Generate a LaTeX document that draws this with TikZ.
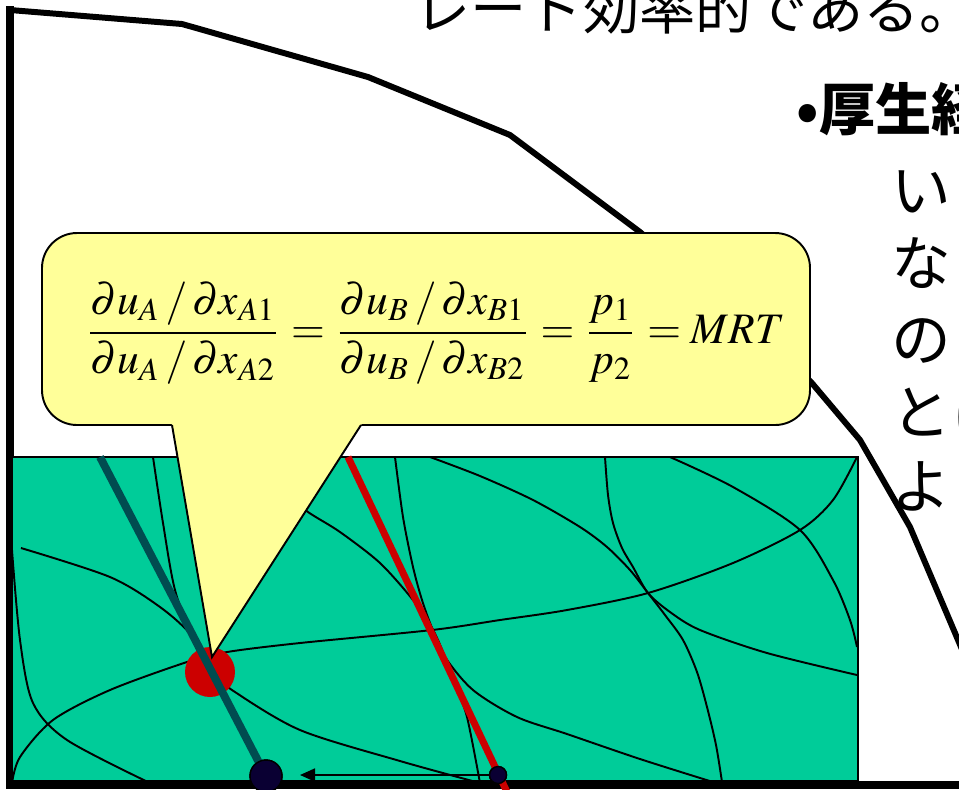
\documentclass[tikz,border=0pt]{standalone}
\usepackage{mathptmx}
\usepackage[no-math]{fontspec}
\usepackage{graphicx}
\newfontfamily\jp{Noto Sans CJK JP}
\usetikzlibrary{arrows.meta}
\definecolor{ggreen}{HTML}{00CC99}
\definecolor{yel}{HTML}{FFFF99}
\definecolor{tealline}{HTML}{004C50}
\definecolor{redc}{HTML}{CC0000}
\definecolor{navy}{HTML}{0A0033}
\begin{document}
\begin{tikzpicture}[x=0.02cm,y=-0.02cm,
  icurve/.style={draw=black, line width=1.1pt},
  axisline/.style={line width=4.2pt, line cap=rect},
  ppf/.style={line width=3.4pt, line join=round},
  jptext/.style={font=\jp\fontsize{32}{38}\selectfont, inner sep=0pt, anchor=base west},
  jpside/.style={font=\jp\fontsize{34}{40}\selectfont, inner sep=0pt, anchor=base west},
  jpbold/.style={font=\jp\bfseries\fontsize{32}{38}\selectfont, inner sep=0pt, anchor=base west},
  dotstyle/.style={circle, inner sep=0pt, draw=black, line width=0.8pt, fill=navy}]
\useasboundingbox (0,0) rectangle (959,789);
\clip (0,0) rectangle (959,789);
\fill[white] (0,0) rectangle (959,789);
% production possibility frontier
\draw[ppf] (10,10) -- (182,24) -- (368,77) -- (510,135) -- (640,232) -- (811,382) -- (860,440) -- (910,527) -- (975,680);
% axes
\draw[axisline] (10,10) -- (10,785) -- (975,785);
% Edgeworth box
\filldraw[fill=ggreen, line width=1.4pt] (12,457) rectangle (858,781);
% indifference curves and contract curve
\draw[icurve] plot[smooth] coordinates {(12,550) (20,640) (33,703) (67,740) (150,783)};
\draw[icurve] plot[smooth] coordinates {(153,457) (163,523) (175,590) (195,645) (212,672) (232,690) (300,730) (400,761) (480,783)};
\draw[icurve] plot[smooth] coordinates {(21,548) (110,577) (160,607) (192,636) (212,672) (230,707) (250,745) (262,775)};
\draw[icurve] plot[smooth] coordinates {(12,783) (20,757) (53,720) (110,690) (187,662) (227,652) (300,643) (432,630) (500,620) (567,610) (648,593) (733,563) (800,530) (833,500) (857,457)};
\draw[icurve] plot[smooth] coordinates {(395,457) (403,517) (413,567) (422,600) (432,628) (445,657) (473,690) (517,717) (567,734) (640,759) (713,782)};
\draw[icurve] plot[smooth] coordinates {(280,490) (308,512) (340,532) (380,563) (413,600) (432,628) (443,652) (455,685) (467,717) (480,783)};
\draw[icurve] plot[smooth] coordinates {(605,457) (608,495) (613,523) (622,548) (633,567) (648,593) (670,612) (700,630) (767,653) (857,675)};
\draw[icurve] plot[smooth] coordinates {(430,457) (480,476) (533,500) (580,527) (607,547) (630,570) (648,593) (665,615) (683,640) (697,672) (707,707) (716,745) (722,782)};
\draw[icurve] plot[smooth] coordinates {(670,457) (733,487) (800,530) (833,580) (850,620) (857,647)};
% equilibrium points and price lines
\node[circle, fill=redc, minimum size=1cm, inner sep=0pt] (E) at (210,672) {};
\node[dotstyle, minimum size=0.64cm] (dotA) at (266,776) {};
\node[dotstyle, minimum size=0.34cm] (dotB) at (498,775) {};
\coordinate (tealTop) at (100,457);
\coordinate (redTop) at (348,457);
\coordinate (redBot) at (507,792);
\coordinate (arrEnd) at (300,775);
\draw[tealline, line width=4.5pt] (tealTop) -- (dotA.center);
\draw[redc, line width=4pt] (redTop) -- (redBot);
\node[dotstyle, minimum size=0.64cm] at (dotA) {};
\node[dotstyle, minimum size=0.34cm] at (dotB) {};
\draw[line width=1.1pt, -{Triangle[length=0.3cm,width=0.26cm]}] (dotB.west) -- (arrEnd);
% callout
\filldraw[fill=yel, line width=1.1pt, rounded corners=0.7cm] (42,233) rectangle (810,425);
\fill[yel] (171.5,422) -- (212,657) -- (363,422) -- cycle;
\draw[line width=1.1pt, line join=miter] (172,425) -- (212,657) -- (361,425);
\node (eq) at (435,333) {\resizebox{14cm}{!}{$\displaystyle
  \frac{\partial u_A\,/\,\partial x_{A1}}{\partial u_A\,/\,\partial x_{A2}}
  =\frac{\partial u_B\,/\,\partial x_{B1}}{\partial u_B\,/\,\partial x_{B2}}
  =\frac{p_1}{p_2}=MRT$}};
% texts
\node[jptext] (t0) at (414,29) {レート効率的である。};
\node[jpbold, anchor=base] (bul) at (808,130) {•};
\node[jpbold] (t1) at (819,130) {厚生経};
\node[jpside] (t2) at (891,212) {い};
\node[jpside] (t3) at (891,285) {な};
\node[jpside] (t4) at (891,361) {の};
\node[jpside] (t5) at (891,434) {とに};
\node[jpside] (t6) at (891,508) {よ};
\end{tikzpicture}
\end{document}
